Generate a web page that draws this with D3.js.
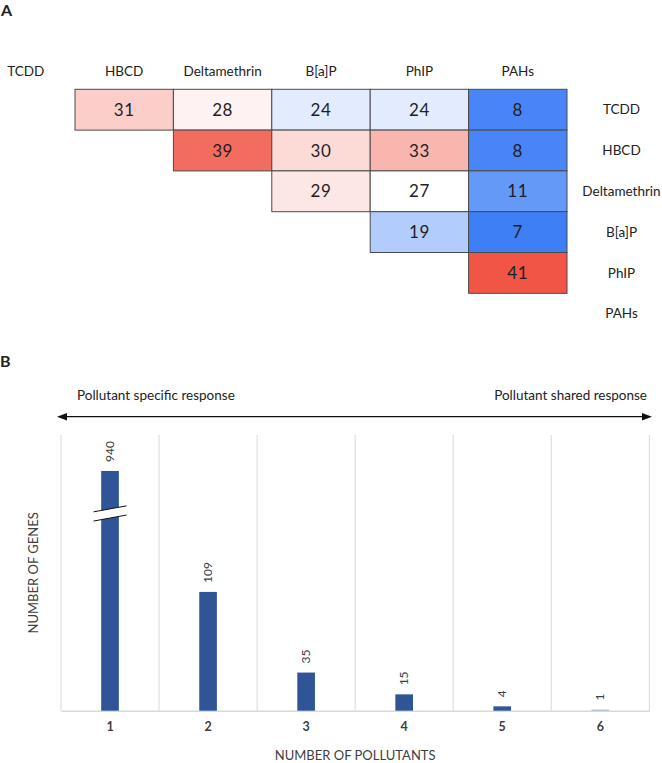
<!DOCTYPE html>
<html>
<head>
<meta charset="utf-8">
<script src="https://cdn.jsdelivr.net/npm/d3@7"></script>
<style>
  html, body { margin: 0; padding: 0; background: #fff; }
  svg { display: block; font-family: Lato, "Open Sans", sans-serif; }
</style>
</head>
<body>
<svg id="chart" width="662" height="763"></svg>
<script>
// ---------- DATA ----------
const pollutants = ["TCDD", "HBCD", "Deltamethrin", "B[a]P", "PhIP", "PAHs"];
// shared genes between pollutant pairs (row, column, value)
const pairRows = ["TCDD","TCDD","TCDD","TCDD","TCDD","HBCD","HBCD","HBCD","HBCD","Deltamethrin","Deltamethrin","Deltamethrin","B[a]P","B[a]P","PhIP"];
const pairCols = ["HBCD","Deltamethrin","B[a]P","PhIP","PAHs","Deltamethrin","B[a]P","PhIP","PAHs","B[a]P","PhIP","PAHs","PhIP","PAHs","PAHs"];
const pairValues = [31,28,24,24,8,39,30,33,8,29,27,11,19,7,41];

const numPollutants = ["1","2","3","4","5","6"];
const numGenes = [940,109,35,15,4,1];

(function () {
// ---------- SETUP ----------
const svg = d3.select("#chart");
const textCol = "#404040";

// panel letters
svg.append("text").attr("x", 1).attr("y", 16).attr("font-size", 16).attr("font-weight", "bold")
  .attr("fill", "#222").text("A");
svg.append("text").attr("x", 0).attr("y", 367).attr("font-size", 16).attr("font-weight", "bold")
  .attr("fill", "#222").text("B");

// ---------- PANEL A: heatmap ----------
const hx = d3.scaleBand().domain(pollutants).range([-23.4, 567]);
const hy = d3.scaleBand().domain(pollutants).range([89.3, 89.3 + 6 * 40.8]);
const color = d3.scaleLinear().domain([7, 27, 41])
  .range(["#3f7ff5", "#ffffff", "#f05545"]).interpolate(d3.interpolateRgb);

const cells = pairValues.map((v, i) => ({ r: pairRows[i], c: pairCols[i], v }));

// column headers
svg.append("g").selectAll("text").data(pollutants).join("text")
  .attr("x", d => hx(d) + hx.bandwidth() / 2)
  .attr("y", 71).attr("dy", "0.35em")
  .attr("text-anchor", "middle").attr("font-size", 13.5).attr("fill", "#222")
  .text(d => d);

// row labels
svg.append("g").selectAll("text").data(pollutants).join("text")
  .attr("x", 621.5)
  .attr("y", d => hy(d) + hy.bandwidth() / 2).attr("dy", "0.35em")
  .attr("text-anchor", "middle").attr("font-size", 13.5).attr("fill", "#222")
  .text(d => d);

const cg = svg.append("g");
cg.selectAll("rect").data(cells).join("rect")
  .attr("x", d => hx(d.c)).attr("y", d => hy(d.r))
  .attr("width", hx.bandwidth()).attr("height", hy.bandwidth())
  .attr("fill", d => color(d.v))
  .attr("stroke", "#4a4a4a").attr("stroke-width", 1);
cg.selectAll("text").data(cells).join("text")
  .attr("x", d => hx(d.c) + hx.bandwidth() / 2)
  .attr("y", d => hy(d.r) + hy.bandwidth() / 2).attr("dy", "0.36em")
  .attr("text-anchor", "middle").attr("font-size", 17).attr("letter-spacing", 0.6)
  .attr("fill", "#1e1e28")
  .text(d => d.v);

// ---------- PANEL B: bar chart ----------
const pLeft = 61, pRight = 649.3, pTop = 435, pBottom = 710.7;
const bx = d3.scaleBand().domain(numPollutants).range([pLeft, pRight]);
const by = d3.scaleLinear().domain([0, 253]).range([pBottom, pTop]);
const breakCap = 220;     // displayed height for the broken bar
const breakMarkAt = 181;  // where the break symbol sits

// arrow
const ay = 416.7;
svg.append("line").attr("x1", 62).attr("x2", 648).attr("y1", ay).attr("y2", ay)
  .attr("stroke", "#111").attr("stroke-width", 1.3);
svg.append("path").attr("d", `M57,${ay} L67,${ay - 3.8} L67,${ay + 3.8} Z`).attr("fill", "#111");
svg.append("path").attr("d", `M652,${ay} L642,${ay - 3.8} L642,${ay + 3.8} Z`).attr("fill", "#111");
svg.append("text").attr("x", 77).attr("y", 395).attr("dy", "0.35em")
  .attr("font-size", 13.5).attr("fill", "#222").text("Pollutant specific response");
svg.append("text").attr("x", 647).attr("y", 395).attr("dy", "0.35em").attr("text-anchor", "end")
  .attr("font-size", 13.5).attr("fill", "#222").text("Pollutant shared response");

// vertical gridlines at category boundaries
const bounds = numPollutants.map(d => bx(d)).concat([pRight]);
svg.append("g").selectAll("line").data(bounds).join("line")
  .attr("x1", d => d).attr("x2", d => d).attr("y1", pTop).attr("y2", pBottom)
  .attr("stroke", "#d9d9d9").attr("stroke-width", 1);

// baseline axis
const xAxis = d3.axisBottom(bx).tickSize(0).tickPadding(11);
const xg = svg.append("g").attr("transform", `translate(0,${pBottom})`).call(xAxis);
xg.select(".domain").attr("stroke", "#d9d9d9").attr("stroke-width", 1.5);
xg.selectAll("text").attr("font-size", 12.5).attr("font-weight", "bold").attr("fill", textCol)
  .attr("font-family", "Lato, sans-serif");

const bw = bx.bandwidth() * 0.18;
const bars = numGenes.map((v, i) => ({ k: numPollutants[i], v }));
svg.append("g").selectAll("rect").data(bars).join("rect")
  .attr("x", d => bx(d.k) + bx.bandwidth() / 2 - bw / 2)
  .attr("y", d => by(Math.min(d.v, breakCap)))
  .attr("width", bw)
  .attr("height", d => Math.max(pBottom - by(Math.min(d.v, breakCap)), 1.2))
  .attr("fill", (d, i) => i === 5 ? "#a9b9d6" : "#2f5597");

// value labels rotated
svg.append("g").selectAll("text").data(bars).join("text")
  .attr("transform", d => `translate(${bx(d.k) + bx.bandwidth() / 2},${by(Math.min(d.v, breakCap)) - 9}) rotate(-90)`)
  .attr("dy", "0.35em").attr("font-size", 12).attr("fill", textCol)
  .text(d => d.v);

// axis break symbol on bar 1
const bcx = bx(numPollutants[0]) + bx.bandwidth() / 2;
const bcy = by(breakMarkAt);
const hw = 16.5, sl = 3.0, gap = 4.6;
svg.append("path")
  .attr("d", `M${bcx - hw},${bcy + sl - gap} L${bcx + hw},${bcy - sl - gap} L${bcx + hw},${bcy - sl + gap} L${bcx - hw},${bcy + sl + gap} Z`)
  .attr("fill", "#fff");
[-gap, gap].forEach(o => {
  svg.append("line")
    .attr("x1", bcx - hw).attr("y1", bcy + sl + o).attr("x2", bcx + hw).attr("y2", bcy - sl + o)
    .attr("stroke", "#111").attr("stroke-width", 1);
});

// axis titles
svg.append("text").attr("x", (pLeft + pRight) / 2).attr("y", 755).attr("dy", "0.35em")
  .attr("text-anchor", "middle").attr("font-size", 13).attr("fill", textCol)
  .text("NUMBER OF POLLUTANTS");
svg.append("text").attr("transform", `translate(33,${(pTop + pBottom) / 2}) rotate(-90)`)
  .attr("dy", "0.35em").attr("text-anchor", "middle").attr("font-size", 13).attr("fill", textCol)
  .text("NUMBER OF GENES");
})();
</script>
</body>
</html>
